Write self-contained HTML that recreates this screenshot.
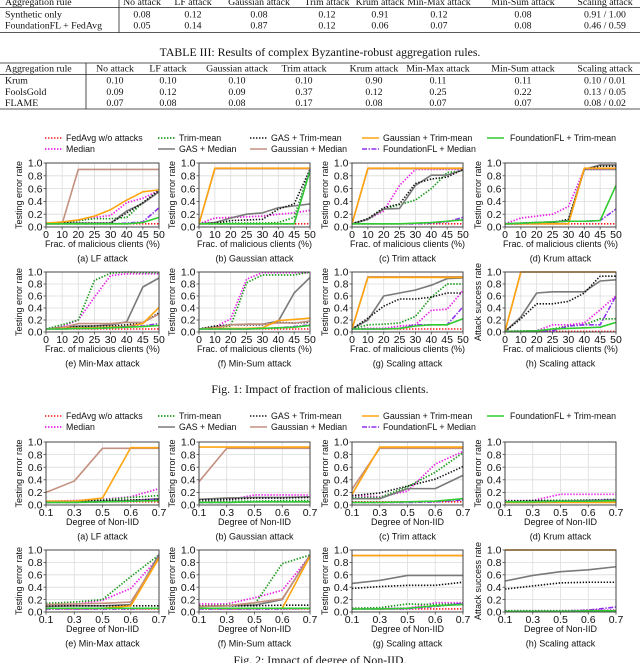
<!DOCTYPE html>
<html><head><meta charset="utf-8"><style>
html,body{margin:0;padding:0;background:#fff;}
svg{display:block;}
.tb{font-family:"Liberation Serif",serif;font-size:9.8px;fill:#111;}
.tk{font-family:"Liberation Sans",sans-serif;font-size:10.5px;fill:#111;}
.lb{font-family:"Liberation Sans",sans-serif;font-size:9px;fill:#111;}
.lg{font-family:"Liberation Sans",sans-serif;font-size:8.8px;fill:#111;}
.cap{font-family:"Liberation Serif",serif;font-size:11.8px;fill:#111;}
</style></head><body>
<svg id="root" width="640" height="663" viewBox="0 0 640 663" xmlns="http://www.w3.org/2000/svg">
<g id="tables"></g>
<g id="charts"></g>
</svg>
<script>
// ---------- Table data ----------
var tableHeaders = ["Aggregation rule","No attack","LF attack","Gaussian attack","Trim attack","Krum attack","Min-Max attack","Min-Sum attack","Scaling attack"];
var table2Rows = [["Synthetic only","0.08","0.12","0.08","0.12","0.91","0.12","0.08","0.91 / 1.00"],["FoundationFL + FedAvg","0.05","0.14","0.87","0.12","0.06","0.07","0.08","0.46 / 0.59"]];
var table3Rows = [["Krum","0.10","0.10","0.10","0.10","0.90","0.11","0.11","0.10 / 0.01"],["FoolsGold","0.09","0.12","0.09","0.37","0.12","0.25","0.22","0.13 / 0.05"],["FLAME","0.07","0.08","0.08","0.17","0.08","0.07","0.07","0.08 / 0.02"]];

// ---------- Chart data ----------
var fracCats = ["0","10","20","25","30","40","45","50"];
var niidCats = ["0.1","0.3","0.5","0.6","0.7"];
var yTicks = ["0.0","0.2","0.4","0.6","0.8","1.0"];
var seriesNames = ["FedAvg w/o attacks","Median","Trim-mean","GAS + Median","GAS + Trim-mean","Gaussian + Median","Gaussian + Trim-mean","FoundationFL + Median","FoundationFL + Trim-mean"];

var f1a = [[.05,.05,.05,.05,.05,.05,.05,.05],[.06,.07,.10,.15,.18,.38,.45,.57],[.06,.07,.10,.13,.13,.15,.38,.57],[.05,.06,.06,.06,.06,.25,.37,.55],[.05,.06,.06,.06,.06,.22,.38,.57],[.05,.05,.90,.90,.90,.90,.90,.90],[.06,.08,.11,.17,.27,.42,.55,.58],[.05,.05,.05,.05,.05,.06,.08,.30],[.05,.05,.05,.05,.05,.05,.07,.15]];
var f1b = [[.05,.05,.05,.05,.05,.05,.05,.05],[.05,.14,.15,.16,.17,.20,.22,.26],[.05,.06,.06,.06,.06,.07,.15,.90],[.05,.07,.14,.20,.22,.30,.33,.36],[.05,.06,.10,.11,.12,.28,.36,.90],[.05,.91,.91,.91,.91,.91,.91,.91],[.05,.92,.92,.92,.92,.92,.92,.92],[.05,.05,.05,.05,.05,.05,.05,.90],[.05,.05,.05,.05,.05,.05,.05,.88]];
var f1c = [[.05,.05,.05,.05,.05,.05,.05,.05],[.05,.12,.25,.65,.90,.90,.90,.90],[.05,.12,.28,.35,.42,.60,.85,.88],[.05,.12,.28,.29,.65,.81,.81,.89],[.05,.13,.30,.36,.68,.75,.78,.90],[.05,.91,.91,.91,.91,.91,.91,.91],[.05,.92,.92,.92,.92,.92,.92,.92],[.05,.05,.05,.05,.05,.06,.08,.15],[.05,.05,.05,.05,.06,.07,.09,.11]];
var f1d = [[.05,.05,.05,.05,.05,.05,.05,.05],[.05,.14,.17,.20,.32,.90,.90,.90],[.05,.06,.07,.08,.10,.90,.90,.90],[.05,.05,.06,.07,.10,.90,.97,.97],[.05,.05,.06,.07,.12,.90,.95,.95],[.05,.05,.05,.05,.05,.91,.91,.91],[.05,.05,.05,.05,.05,.92,.92,.92],[.05,.06,.07,.08,.09,.09,.10,.28],[.05,.06,.07,.08,.09,.09,.10,.65]];
var f1e = [[.05,.05,.05,.05,.05,.05,.05,.05],[.05,.09,.20,.58,.94,.97,.97,.97],[.05,.12,.20,.86,.98,1.0,.99,.99],[.05,.08,.10,.10,.12,.17,.75,.90],[.05,.07,.09,.10,.10,.12,.15,.32],[.05,.07,.14,.14,.14,.16,.16,.30],[.05,.06,.07,.07,.08,.09,.14,.41],[.05,.05,.06,.06,.07,.09,.10,.14],[.05,.05,.06,.06,.07,.08,.09,.11]];
var f1f = [[.05,.05,.05,.05,.05,.05,.05,.05],[.05,.08,.22,.88,.99,.99,.99,.99],[.05,.08,.10,.82,.95,.95,.95,1.0],[.05,.08,.12,.13,.13,.18,.65,.91],[.05,.10,.12,.12,.12,.16,.15,.16],[.05,.07,.12,.13,.13,.15,.15,.18],[.05,.06,.06,.06,.07,.19,.21,.23],[.05,.05,.05,.05,.06,.07,.09,.12],[.05,.05,.05,.05,.06,.07,.08,.11]];
var f1g = [[.05,.05,.05,.05,.05,.05,.05,.05],[.05,.06,.06,.10,.12,.36,.38,.69],[.05,.12,.13,.15,.26,.58,.80,.80],[.05,.20,.60,.65,.70,.78,.89,.90],[.05,.23,.43,.55,.55,.58,.65,.65],[.05,.92,.92,.92,.92,.92,.92,.92],[.05,.91,.91,.91,.91,.91,.91,.91],[.05,.05,.05,.06,.12,.12,.12,.42],[.05,.05,.05,.06,.10,.12,.12,.22]];
var f1h = [[.01,.01,.01,.01,.01,.01,.01,.01],[.01,.02,.02,.12,.12,.15,.37,.60],[.01,.02,.02,.05,.10,.12,.22,.22],[.01,.25,.65,.67,.67,.67,.85,.87],[.01,.22,.47,.47,.51,.65,.93,.93],[.01,1,1,1,1,1,1,1],[.01,1,1,1,1,1,1,1],[.01,.01,.02,.02,.10,.12,.12,.60],[.01,.01,.02,.05,.06,.07,.08,.16]];

var f2a = [[.05,.05,.05,.05,.05],[.06,.07,.09,.13,.26],[.05,.06,.08,.12,.15],[.04,.05,.06,.07,.10],[.05,.06,.07,.08,.09],[.20,.38,.90,.90,.90],[.06,.06,.11,.91,.91],[.04,.04,.05,.06,.09],[.04,.04,.05,.06,.07]];
var f2b = [[.05,.05,.05,.05,.05],[.05,.07,.16,.16,.16],[.05,.06,.06,.07,.07],[.09,.11,.12,.12,.13],[.08,.09,.11,.11,.12],[.37,.90,.90,.90,.90],[.92,.92,.92,.92,.92],[.04,.04,.05,.05,.05],[.04,.04,.05,.05,.05]];
var f2c = [[.05,.05,.05,.05,.05],[.15,.13,.22,.65,.85],[.12,.12,.29,.52,.83],[.10,.10,.26,.26,.47],[.15,.19,.30,.41,.61],[.25,.90,.90,.90,.90],[.17,.92,.92,.92,.92],[.04,.04,.04,.05,.08],[.04,.04,.05,.06,.10]];
var f2d = [[.05,.05,.05,.05,.05],[.07,.07,.17,.17,.17],[.06,.07,.07,.08,.09],[.05,.06,.06,.07,.08],[.06,.07,.07,.07,.08],[.04,.04,.05,.05,.05],[.04,.04,.04,.04,.04],[.05,.05,.06,.07,.08],[.05,.05,.06,.06,.07]];
var f2e = [[.05,.05,.05,.05,.05],[.10,.12,.19,.38,.88],[.14,.16,.20,.57,.92],[.09,.10,.10,.12,.93],[.10,.10,.10,.10,.10],[.12,.13,.14,.16,.88],[.06,.06,.06,.10,.87],[.05,.05,.05,.05,.06],[.06,.06,.06,.06,.06]];
var f2f = [[.05,.05,.05,.05,.05],[.13,.13,.23,.35,.90],[.10,.11,.12,.78,.92],[.09,.10,.11,.20,.92],[.10,.10,.10,.11,.11],[.09,.10,.15,.21,.90],[.06,.06,.06,.06,.90],[.05,.05,.05,.05,.06],[.06,.06,.06,.06,.06]];
var f2g = [[.05,.05,.05,.05,.05],[.06,.06,.06,.15,.15],[.06,.07,.13,.12,.13],[.46,.51,.59,.59,.59],[.38,.41,.43,.43,.48],[.91,.91,.91,.91,.91],[.91,.91,.91,.91,.91],[.05,.05,.05,.09,.14],[.05,.05,.06,.10,.12]];
var f2h = [[.01,.01,.01,.01,.01],[.02,.02,.02,.03,.03],[.02,.02,.02,.02,.02],[.50,.59,.65,.68,.73],[.37,.42,.47,.48,.48],[1,1,1,1,1],[1,1,1,1,1],[.01,.01,.01,.03,.08],[.01,.01,.01,.02,.02]];

var NS = "http://www.w3.org/2000/svg";
function mk(tag, attrs, parent){var e=document.createElementNS(NS,tag);for(var k in attrs)e.setAttribute(k,attrs[k]);parent.appendChild(e);return e;}
function txt(parent,x,y,s,cls,anchor,extra){var t=mk("text",{x:x,y:y,"class":cls,"text-anchor":anchor||"start"},parent);if(extra)for(var k in extra)t.setAttribute(k,extra[k]);t.textContent=s;return t;}

var styles = [
 {c:"#ff1a1a",w:1.6,d:"1.4,1.6"},
 {c:"#e81ee8",w:1.7,d:"1.4,1.6"},
 {c:"#1a9a1a",w:1.7,d:"1.4,1.6"},
 {c:"#7a7a7a",w:1.6,d:""},
 {c:"#111111",w:1.6,d:"1.4,1.6"},
 {c:"#c49080",w:1.6,d:""},
 {c:"#ffa510",w:1.6,d:""},
 {c:"#9030f0",w:1.6,d:"5,1.5,1.4,1.5"},
 {c:"#30cc30",w:1.6,d:""}
];

// ---------- Tables ----------
var tg = document.getElementById("tables");
var col1 = [142,193,259,327,380,439,523,605];
var col2 = [115,168,237,304,374,438,523,605];
(function(){
  var t1 = mk("g",{},tg);
  
  
  tableHeaders.forEach(function(h,i){ if(i==0) txt(t1,5,5,h,"tb"); else txt(t1,col1[i-1],5,h,"tb","middle"); });
  mk("line",{x1:0,x2:640,y1:7.5,y2:7.5,stroke:"#222","stroke-width":0.8},t1);
  table2Rows.forEach(function(r,ri){var y=17.5+ri*11;r.forEach(function(v,i){ if(i==0) txt(t1,5,y,v,"tb",null,ri==1?{"font-family":"Liberation Sans, sans-serif","font-size":"9.3px"}:null); else txt(t1,col1[i-1],y,v,"tb","middle");});});
  mk("line",{x1:0,x2:640,y1:32.5,y2:32.5,stroke:"#222","stroke-width":0.8},t1);
  mk("line",{x1:119,x2:119,y1:0,y2:32.5,stroke:"#222","stroke-width":0.8},t1);
  var c = txt(tg,320,56,"TABLE III: Results of complex Byzantine-robust aggregation rules.","cap","middle");
  
  
  var t2 = mk("g",{},tg);
  
  
  mk("line",{x1:0,x2:640,y1:63,y2:63,stroke:"#222","stroke-width":0.8},t2);
  tableHeaders.forEach(function(h,i){ if(i==0) txt(t2,5,71.5,h,"tb"); else txt(t2,col2[i-1],71.5,h,"tb","middle"); });
  mk("line",{x1:0,x2:640,y1:74.5,y2:74.5,stroke:"#222","stroke-width":0.8},t2);
  table3Rows.forEach(function(r,ri){var y=83.5+ri*11.3;r.forEach(function(v,i){ if(i==0) txt(t2,5,y,v,"tb"); else txt(t2,col2[i-1],y,v,"tb","middle");});});
  mk("line",{x1:0,x2:640,y1:109,y2:109,stroke:"#222","stroke-width":0.8},t2);
  mk("line",{x1:86,x2:86,y1:63,y2:109,stroke:"#222","stroke-width":0.8},t2);
})();

// ---------- Charts ----------
var cg = document.getElementById("charts");
var colsX = [[46,159],[199,310],[352,463],[505,616]];

function legend(y0, name){
  var g = mk("g",{},cg);
  
  
  var pos = [[45,66,y0,0],[45,66,y0+11,1],[158,179,y0,2],[158,179,y0+11,3],[250,271,y0,4],[250,271,y0+11,5],[362,383,y0,6],[362,383,y0+11,7],[487,510,y0,8]];
  pos.forEach(function(p){
    var s = styles[p[3]];
    var e = mk("g",{},g);
    
    
    mk("line",{x1:p[0],x2:p[0]+17,y1:p[2],y2:p[2],stroke:s.c,"stroke-width":s.w,"stroke-dasharray":s.d},e);
    txt(e,p[1],p[2]+3,seriesNames[p[3]],"lg");
  });
}

function chart(data, cats, colIdx, top, bot, ylabel, xlabel, sub, name){
  var x0 = colsX[colIdx][0], x1 = colsX[colIdx][1];
  var g = mk("g",{},cg);
  
  
  function xs(i){ return x0 + (x1-x0)*i/(cats.length-1); }
  function ys(v){ return bot - (bot-top)*v; }
  cats.forEach(function(c,i){ mk("line",{x1:xs(i),x2:xs(i),y1:top,y2:bot,stroke:"#dcdcdc","stroke-width":0.8},g); });
  yTicks.forEach(function(t){ var v=parseFloat(t); mk("line",{x1:x0,x2:x1,y1:ys(v),y2:ys(v),stroke:"#dcdcdc","stroke-width":0.8},g); });
  data.forEach(function(vals,si){
    var s = styles[si];
    var pts = vals.map(function(v,i){ return xs(i).toFixed(2)+","+ys(v).toFixed(2); }).join(" ");
    var pl = mk("polyline",{points:pts,fill:"none",stroke:s.c,"stroke-width":s.w,"stroke-dasharray":s.d,"stroke-linejoin":"round"},g);
    
    
  });
  var fr = mk("rect",{x:x0,y:top,width:x1-x0,height:bot-top,fill:"none",stroke:"#444","stroke-width":1},g);
  
  
  cats.forEach(function(c,i){ mk("line",{x1:xs(i),x2:xs(i),y1:bot,y2:bot+2.5,stroke:"#444","stroke-width":0.8},g); txt(g,xs(i),bot+11,c,"tk","middle"); });
  yTicks.forEach(function(t){ var v=parseFloat(t); mk("line",{x1:x0-2.5,x2:x0,y1:ys(v),y2:ys(v),stroke:"#444","stroke-width":0.8},g); txt(g,x0-3.5,ys(v)+3.7,t,"tk","end"); });
  var yl = txt(g,0,0,ylabel,"lb","middle",{transform:"translate("+(x0-24)+","+((top+bot)/2)+") rotate(-90)"});
  
  
  var xl = txt(g,(x0+x1)/2,bot+20,xlabel,"lb","middle");
  
  
  var sc = txt(g,(x0+x1)/2,bot+34.5,sub,"lb","middle");
  
  
}

legend(138,"fig1-legend");
var FX = "Frac. of malicious clients (%)", TE = "Testing error rate", AS = "Attack success rate";
chart(f1a,fracCats,0,163,227,TE,FX,"(a) LF attack","fig1-lf-attack");
chart(f1b,fracCats,1,163,227,TE,FX,"(b) Gaussian attack","fig1-gaussian-attack");
chart(f1c,fracCats,2,163,227,TE,FX,"(c) Trim attack","fig1-trim-attack");
chart(f1d,fracCats,3,163,227,TE,FX,"(d) Krum attack","fig1-krum-attack");
chart(f1e,fracCats,0,272,332,TE,FX,"(e) Min-Max attack","fig1-minmax-attack");
chart(f1f,fracCats,1,272,332,TE,FX,"(f) Min-Sum attack","fig1-minsum-attack");
chart(f1g,fracCats,2,272,332,TE,FX,"(g) Scaling attack","fig1-scaling-attack");
chart(f1h,fracCats,3,272,332,AS,FX,"(h) Scaling attack","fig1-scaling-asr");
var c1 = txt(cg,320,393,"Fig. 1: Impact of fraction of malicious clients.","cap","middle");



legend(416,"fig2-legend");
var NX = "Degree of Non-IID";
chart(f2a,niidCats,0,442,505,TE,NX,"(a) LF attack","fig2-lf-attack");
chart(f2b,niidCats,1,442,505,TE,NX,"(b) Gaussian attack","fig2-gaussian-attack");
chart(f2c,niidCats,2,442,505,TE,NX,"(c) Trim attack","fig2-trim-attack");
chart(f2d,niidCats,3,442,505,TE,NX,"(d) Krum attack","fig2-krum-attack");
chart(f2e,niidCats,0,550,612,TE,NX,"(e) Min-Max attack","fig2-minmax-attack");
chart(f2f,niidCats,1,550,612,TE,NX,"(f) Min-Sum attack","fig2-minsum-attack");
chart(f2g,niidCats,2,550,612,TE,NX,"(g) Scaling attack","fig2-scaling-attack");
chart(f2h,niidCats,3,550,612,AS,NX,"(h) Scaling attack","fig2-scaling-asr");
var c2 = txt(cg,320,664,"Fig. 2: Impact of degree of Non-IID.","cap","middle");


</script>
</body></html>
